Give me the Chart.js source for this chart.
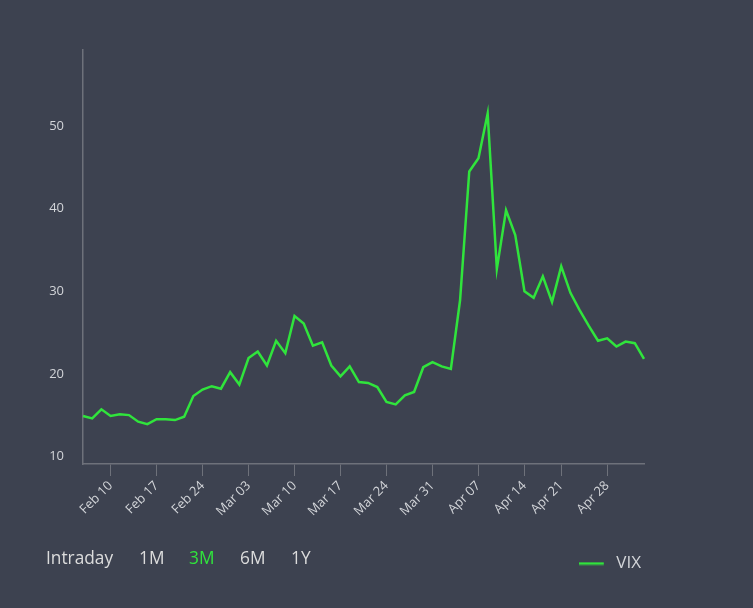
<!DOCTYPE html>
<html>
<head>
<meta charset="utf-8">
<script src="https://cdn.jsdelivr.net/npm/chart.js@4.4.1/dist/chart.umd.min.js"></script>
<style>
  html, body { margin: 0; padding: 0; background: #3d4250; }
  #wrap { position: relative; width: 753px; height: 608px; font-family: "Open Sans", sans-serif; }
  #wrap canvas { position: absolute; left: 0; top: 0; }
  .range { position: absolute; top: 546px; line-height: 24px; font-size: 17.3px; color: #dcdcdc; }
  .range.active { color: #30e43c; }
</style>
</head>
<body>
<div id="wrap">
  <canvas id="vixChart" width="753" height="608"></canvas>
  <span class="range" style="left:46px">Intraday</span>
  <span class="range" style="left:139px">1M</span>
  <span class="range active" style="left:189px">3M</span>
  <span class="range" style="left:240px">6M</span>
  <span class="range" style="left:291px">1Y</span>
</div>
<script>
// trading days shown on the chart
const dates = [
  "Feb 05", "Feb 06", "Feb 07",
  "Feb 10", "Feb 11", "Feb 12", "Feb 13", "Feb 14",
  "Feb 17", "Feb 18", "Feb 19", "Feb 20", "Feb 21",
  "Feb 24", "Feb 25", "Feb 26", "Feb 27", "Feb 28",
  "Mar 03", "Mar 04", "Mar 05", "Mar 06", "Mar 07",
  "Mar 10", "Mar 11", "Mar 12", "Mar 13", "Mar 14",
  "Mar 17", "Mar 18", "Mar 19", "Mar 20", "Mar 21",
  "Mar 24", "Mar 25", "Mar 26", "Mar 27", "Mar 28",
  "Mar 31", "Apr 01", "Apr 02", "Apr 03", "Apr 04",
  "Apr 07", "Apr 08", "Apr 09", "Apr 10", "Apr 11",
  "Apr 14", "Apr 15", "Apr 16", "Apr 17",
  "Apr 21", "Apr 22", "Apr 23", "Apr 24", "Apr 25",
  "Apr 28", "Apr 29", "Apr 30", "May 01", "May 02"
];

const vix = [
  14.9, 14.6, 15.7,
  14.9, 15.1, 15.0, 14.2, 13.9,
  14.5, 14.5, 14.4, 14.8, 17.3,
  18.1, 18.5, 18.2, 20.2, 18.7,
  21.9, 22.7, 21.0, 24.0, 22.5,
  27.0, 26.1, 23.4, 23.8, 21.0,
  19.7, 20.9, 19.0, 18.9, 18.4,
  16.6, 16.3, 17.4, 17.8, 20.8,
  21.4, 20.9, 20.6, 28.9, 44.5,
  46.1, 51.5, 32.7, 39.8, 36.8,
  30.0, 29.2, 31.8, 28.7,
  33.0, 29.8, 27.7, 25.8, 24.0,
  24.3, 23.3, 23.9, 23.7, 21.8
];

// dates that get a label on the x axis
const xTickLabels = [
  "Feb 10", "Feb 17", "Feb 24", "Mar 03", "Mar 10", "Mar 17",
  "Mar 24", "Mar 31", "Apr 07", "Apr 14", "Apr 21", "Apr 28"
];
const yTickValues = [10, 20, 30, 40, 50];

const green = "#30e43c";
const axisGrey = "#6e717a";
const labelGrey = "#d2d4d8";

// legend marker: a short line with some empty space after it
const legendMark = document.createElement("canvas");
legendMark.width = 29;
legendMark.height = 4;
const lctx = legendMark.getContext("2d");
lctx.strokeStyle = green;
lctx.lineWidth = 2.5;
lctx.beginPath();
lctx.moveTo(0, 2);
lctx.lineTo(25, 2);
lctx.stroke();

const ctx = document.getElementById("vixChart");

new Chart(ctx, {
  type: "line",
  data: {
    labels: dates,
    datasets: [
      {
        label: "VIX",
        data: vix,
        borderColor: green,
        backgroundColor: green,
        borderWidth: 2.5,
        pointRadius: 0,
        pointHoverRadius: 0,
        tension: 0,
        fill: false,
      },
    ],
  },
  options: {
    responsive: false,
    animation: false,
    layout: {
      padding: { top: 50, left: 0, right: 109, bottom: 26 },
    },
    plugins: {
      tooltip: { enabled: false },
      legend: {
        display: true,
        position: "bottom",
        align: "end",
        labels: {
          color: labelGrey,
          font: { family: "Open Sans", size: 17 },
          usePointStyle: true,
          pointStyle: legendMark,
          pointStyleWidth: 29,
          padding: 3,
        },
      },
    },
    scales: {
      x: {
        offset: false,
        grid: {
          display: true,
          drawOnChartArea: false,
          drawTicks: true,
          tickLength: 12,
          color: axisGrey,
        },
        border: { display: true, color: axisGrey, width: 1.5 },
        afterBuildTicks: (scale) => {
          scale.ticks = scale.ticks.filter((t) => xTickLabels.includes(dates[t.value]));
        },
        afterFit: (scale) => {
          scale.height = 88;
        },
        ticks: {
          autoSkip: false,
          minRotation: 45,
          maxRotation: 45,
          padding: 2,
          color: labelGrey,
          font: { family: "Open Sans", size: 13 },
        },
      },
      y: {
        min: 9.08,
        max: 59.2,
        grid: { display: false, drawTicks: false },
        border: { display: true, color: axisGrey, width: 1.5 },
        afterBuildTicks: (scale) => {
          scale.ticks = yTickValues.map((v) => ({ value: v }));
        },
        afterFit: (scale) => {
          scale.width = 83;
        },
        ticks: {
          padding: 19,
          color: labelGrey,
          font: { family: "Open Sans", size: 13 },
        },
      },
    },
  },
});
</script>
</body>
</html>
